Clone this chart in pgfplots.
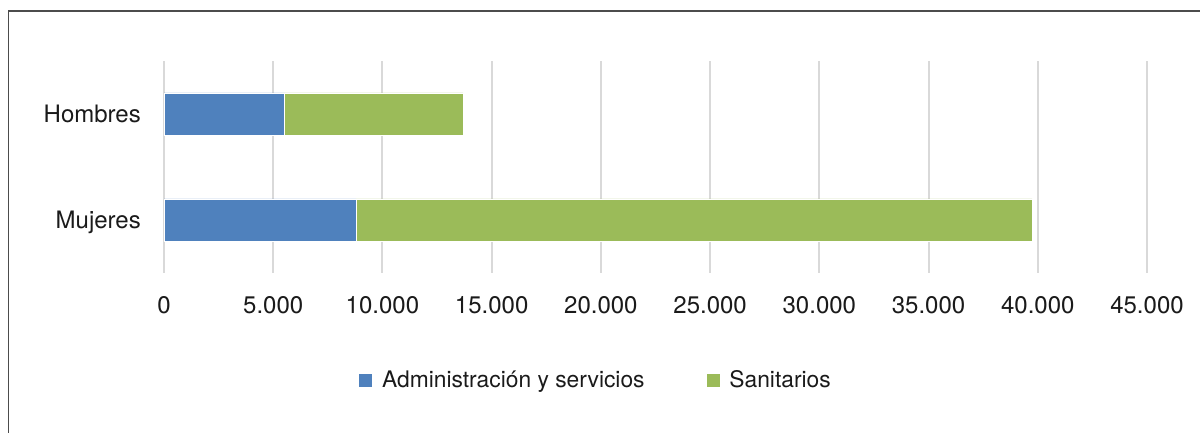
\documentclass[border=0pt]{standalone}
\usepackage{pgfplots}
\pgfplotsset{compat=1.18}
\usepackage{fontspec}
\setmainfont{TeX Gyre Heros}
\definecolor{cblue}{HTML}{4F81BD}
\definecolor{cgreen}{HTML}{9BBB59}
\definecolor{gridc}{HTML}{D9D9D9}
\definecolor{txt}{HTML}{1A1A1A}
\begin{document}
\begin{tikzpicture}
\path[use as bounding box] (0,0) rectangle (1200pt,433pt);
\clip (0,0) rectangle (1200pt,433pt);
\draw[line width=1.6pt, color=black!70] (8.5pt,-10pt) -- (8.5pt,422pt) -- (1210pt,422pt);
\begin{axis}[at={(164pt,160pt)}, anchor=south west, scale only axis,
  width=983pt, height=212pt,
  xbar stacked, bar width=42pt,
  xmin=0, xmax=45000, ymin=-0.5, ymax=1.5,
  xtick={0,5000,...,45000},
  scaled x ticks=false,
  ytick={0,1}, yticklabels={Mujeres,Hombres},
  xmajorgrids, major grid style={gridc, line width=2pt},
  axis line style={draw=none}, major tick length=0pt,
  /pgf/number format/assume math mode=true,
  /pgf/number format/1000 sep={.},
  tick label style={font=\fontsize{24}{28}\selectfont, text=txt},
  xticklabel style={anchor=base, yshift=-40.5pt, inner sep=0pt},
  yticklabel style={anchor=base east, inner sep=0pt, xshift=-23pt, yshift=-8.6pt},
  legend style={at={(0.438,-0.505)}, anchor=center, draw=none, fill=none,
    font=\fontsize{22.8}{26}\selectfont, text=txt, inner sep=0pt,
    legend columns=2,
    nodes={inner sep=0pt},
    /tikz/every odd column/.append style={column sep=9pt},
    /tikz/every even column/.append style={column sep=61pt}},
  legend image code/.code={\fill[#1] (0pt,-7pt) rectangle (14pt,7pt);},
]
\addplot[fill=cblue, draw=white, line width=0.8pt] coordinates {(8790,0) (5520,1)};
\addlegendentry{Administración y servicios}
\addplot[fill=cgreen, draw=white, line width=0.8pt] coordinates {(30950,0) (8170,1)};
\addlegendentry{Sanitarios}
\end{axis}
\end{tikzpicture}
\end{document}
